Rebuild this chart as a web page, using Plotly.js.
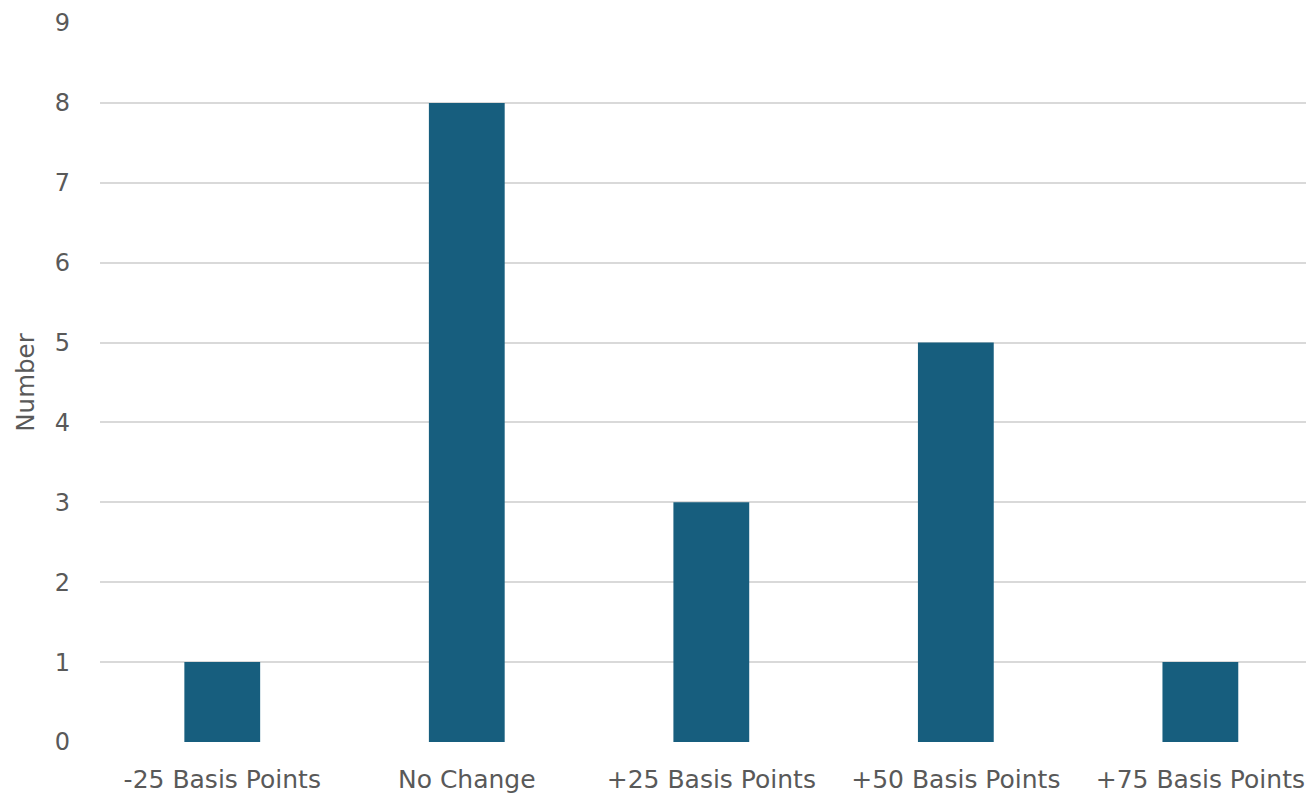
<!DOCTYPE html>
<html>
<head>
<meta charset="utf-8">
<script src="https://cdn.plot.ly/plotly-3.0.1.min.js"></script>
<style>
  html, body { margin: 0; padding: 0; background: #ffffff; overflow: hidden; }
  #chart { width: 1306px; height: 797px; }
</style>
</head>
<body>
<div id="chart"></div>
<script>
// Survey of expected rate moves: count of responses per outcome
const categories = ['-25 Basis Points', 'No Change', '+25 Basis Points', '+50 Basis Points', '+75 Basis Points'];
const counts = [1, 8, 3, 5, 1];
const yTicks = [0, 1, 2, 3, 4, 5, 6, 7, 8, 9];

const fontFamily = '"DejaVu Sans", "Open Sans", sans-serif';
const tickFont = { family: fontFamily, size: 24, color: '#595959' };
const categoryFont = { family: fontFamily, size: 25, color: '#595959' };

const trace = {
  type: 'bar',
  x: categories.map((_, i) => i),
  y: counts,
  width: 0.31,
  marker: { color: '#175E7E', line: { width: 0 } },
  hoverinfo: 'skip'
};

const layout = {
  width: 1306,
  height: 797,
  margin: { l: 100, r: 0, t: 23, b: 55 },
  paper_bgcolor: '#ffffff',
  plot_bgcolor: '#ffffff',
  showlegend: false,
  font: tickFont,
  xaxis: {
    range: [-0.5, 4.432],
    tickmode: 'array',
    tickvals: categories.map((_, i) => i),
    ticktext: categories,
    showgrid: false,
    zeroline: false,
    showline: false,
    ticks: '',
    ticklabelstandoff: 20,
    tickfont: categoryFont,
    fixedrange: true
  },
  yaxis: {
    range: [0, 9],
    tickmode: 'array',
    tickvals: yTicks,
    ticktext: yTicks.map(String),
    showgrid: true,
    gridcolor: '#d9d9d9',
    gridwidth: 2,
    zeroline: false,
    showline: false,
    ticks: '',
    ticklabelstandoff: 29,
    tickfont: tickFont,
    title: { text: 'Number', font: { family: fontFamily, size: 24.5, color: '#595959' }, standoff: 13 },
    fixedrange: true
  }
};

Plotly.newPlot('chart', [trace], layout, { displayModeBar: false, staticPlot: true });
</script>
</body>
</html>
